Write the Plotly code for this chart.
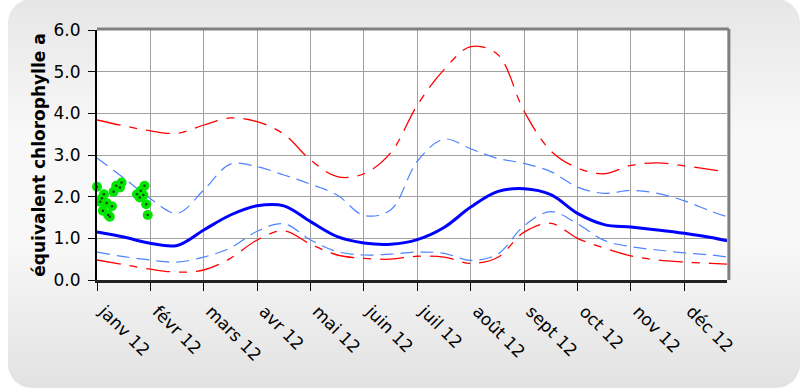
import base64
import plotly.graph_objects as go

# ---------------- data ----------------
month_labels = ["janv 12", "févr 12", "mars 12", "avr 12", "mai 12", "juin 12",
                "juil 12", "août 12", "sept 12", "oct 12", "nov 12", "déc 12"]
month_ticks = list(range(12))

# positions in months (0 = 1 Jan)
x_months = [0, 0.5, 1, 1.5, 2, 2.5, 3, 3.5, 4, 4.5, 5, 5.5, 6, 6.5, 7, 7.5,
            8, 8.5, 9, 9.5, 10, 10.5, 11, 11.5, 11.8]

mean_vals = [1.15, 1.03, 0.88, 0.83, 1.20, 1.56, 1.78, 1.78, 1.40, 1.04, 0.89, 0.86,
             0.97, 1.26, 1.75, 2.12, 2.19, 2.05, 1.60, 1.33, 1.27, 1.20, 1.12, 1.02, 0.94]
blue_hi = [2.93, 2.45, 1.95, 1.60, 2.16, 2.78, 2.72, 2.52, 2.30, 2.04, 1.55, 1.68,
           2.85, 3.38, 3.15, 2.92, 2.80, 2.60, 2.23, 2.08, 2.15, 2.08, 1.90, 1.65, 1.52]
blue_lo = [0.67, 0.56, 0.48, 0.43, 0.55, 0.77, 1.17, 1.35, 0.96, 0.68, 0.60, 0.62,
           0.67, 0.64, 0.47, 0.62, 1.30, 1.64, 1.35, 0.95, 0.80, 0.72, 0.65, 0.60, 0.55]
red_hi = [3.84, 3.70, 3.58, 3.52, 3.72, 3.89, 3.80, 3.50, 2.88, 2.48, 2.55, 3.05,
          4.20, 5.05, 5.60, 5.42, 4.05, 3.10, 2.69, 2.55, 2.75, 2.81, 2.74, 2.65, 2.59]
red_lo = [0.48, 0.37, 0.26, 0.19, 0.24, 0.52, 0.96, 1.18, 0.86, 0.60, 0.52, 0.50,
          0.57, 0.55, 0.40, 0.54, 1.15, 1.36, 1.00, 0.77, 0.58, 0.48, 0.43, 0.40, 0.38]

obs_x = [0.00, 0.06, 0.13, 0.09, 0.18, 0.28, 0.11, 0.21, 0.24, 0.31, 0.36, 0.43, 0.46,
         0.75, 0.80, 0.82, 0.87, 0.89, 0.92, 0.95]
obs_y = [2.24, 1.88, 2.06, 1.96, 1.85, 1.77, 1.66, 1.56, 1.52, 2.12, 2.26, 2.22, 2.34,
         2.06, 1.98, 2.14, 2.04, 2.26, 1.82, 1.56]

ref_x = [-0.02]
ref_y = [1.0]

y_title = "équivalent chlorophylle a"

# ---------------- figure ----------------
W, H = 803, 390
L, R, T, B = 97, 76, 30, 110
pw, ph = W - L - R, H - T - B

fig = go.Figure()

red_dash = "24px,9px,8px,9px"
fig.add_trace(go.Scatter(x=x_months, y=red_hi, mode="lines",
                         line=dict(color="#ff0000", width=1.3, dash=red_dash, shape="spline", smoothing=1),
                         hoverinfo="skip", showlegend=False))
fig.add_trace(go.Scatter(x=x_months, y=red_lo, mode="lines",
                         line=dict(color="#ff0000", width=1.3, dash=red_dash, shape="spline", smoothing=1),
                         hoverinfo="skip", showlegend=False))
fig.add_trace(go.Scatter(x=x_months, y=blue_hi, mode="lines",
                         line=dict(color="#4d84ff", width=1.2, dash="13px,7px", shape="spline", smoothing=1),
                         hoverinfo="skip", showlegend=False))
fig.add_trace(go.Scatter(x=x_months, y=blue_lo, mode="lines",
                         line=dict(color="#4d84ff", width=1.2, dash="13px,7px", shape="spline", smoothing=1),
                         hoverinfo="skip", showlegend=False))
fig.add_trace(go.Scatter(x=x_months, y=mean_vals, mode="lines",
                         line=dict(color="#0000ff", width=3, shape="spline", smoothing=1),
                         hoverinfo="skip", showlegend=False))
fig.add_trace(go.Scatter(x=obs_x, y=obs_y, mode="markers",
                         marker=dict(color="#00e600", size=10, line=dict(width=0)),
                         cliponaxis=False, showlegend=False))
fig.add_trace(go.Scatter(x=obs_x, y=obs_y, mode="markers",
                         marker=dict(color="#104010", size=2.5, line=dict(width=0)),
                         cliponaxis=False, hoverinfo="skip", showlegend=False))
fig.add_trace(go.Scatter(x=ref_x, y=ref_y, mode="markers",
                         marker=dict(color="#0000ff", symbol="square", size=7),
                         cliponaxis=False, showlegend=False))

# background: rounded rectangle with vertical gradient as an inline SVG
svg = f'''<svg xmlns="http://www.w3.org/2000/svg" width="{W}" height="{H}" viewBox="0 0 {W} {H}">
<defs><linearGradient id="g" x1="0" y1="0" x2="0" y2="1">
<stop offset="0" stop-color="#e6e6e6"/>
<stop offset="0.35" stop-color="#f8f8f8"/>
<stop offset="0.62" stop-color="#f8f8f8"/>
<stop offset="1" stop-color="#e2e2e2"/>
</linearGradient></defs>
<rect x="8" y="-1" width="792" height="389" rx="24" ry="24" fill="url(#g)"/>
</svg>'''
src = "data:image/svg+xml;base64," + base64.b64encode(svg.encode()).decode()

fig.update_layout(
    width=W, height=H,
    margin=dict(l=L, r=R, t=T, b=B, pad=0),
    paper_bgcolor="#ffffff",
    plot_bgcolor="#ffffff",
    font=dict(family="DejaVu Sans", size=17, color="#000000"),
    images=[dict(source=src, xref="paper", yref="paper",
                 x=-L / pw, y=1 + T / ph, sizex=W / pw, sizey=H / ph,
                 xanchor="left", yanchor="top", sizing="stretch", layer="below")],
    shapes=[
        dict(type="rect", xref="paper", yref="paper", x0=0, x1=1, y0=0, y1=1,
             fillcolor="#ffffff", line=dict(width=0), layer="below"),
        dict(type="line", xref="paper", yref="paper", x0=0, x1=1.003, y0=1.004, y1=1.004,
             line=dict(color="#808080", width=3)),
        dict(type="line", xref="paper", yref="paper", x0=1.003, x1=1.003, y0=0, y1=1.004,
             line=dict(color="#808080", width=3)),
    ],
)

fig.update_xaxes(
    range=[0, 11.8], tickvals=month_ticks, ticktext=month_labels,
    tickangle=45, ticks="outside", ticklen=8, tickcolor="#000000", tickwidth=1,
    showgrid=True, gridcolor="#a0a0a0", gridwidth=1,
    showline=True, linecolor="#222222", linewidth=2.5,
    zeroline=False, ticklabelstandoff=4, ticklabelshift=7,
    tickfont=dict(family="DejaVu Sans", size=17),
)
fig.update_yaxes(
    range=[0, 6], dtick=1, tickformat=".1f",
    ticks="outside", ticklen=7, tickcolor="#000000", tickwidth=1,
    showgrid=True, gridcolor="#a0a0a0", gridwidth=1,
    showline=True, linecolor="#000000", linewidth=2,
    zeroline=False, ticklabelstandoff=4,
    tickfont=dict(family="DejaVu Sans", size=17),
    title=dict(text=y_title, font=dict(family="DejaVu Sans", size=17, weight="bold"), standoff=4),
)

fig.write_html("out.html", config={"displayModeBar": False},
               post_script="document.body.style.margin='0';")
